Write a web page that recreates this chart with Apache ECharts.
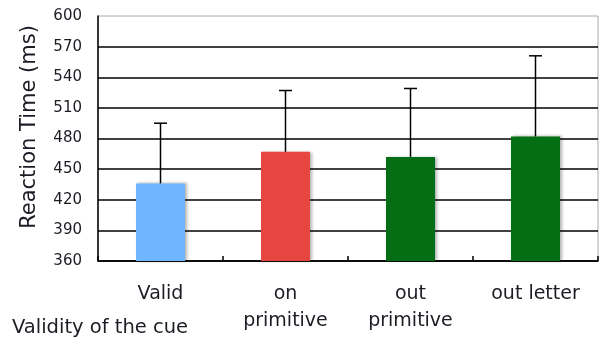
<!DOCTYPE html>
<html>
<head>
<meta charset="utf-8">
<script src="https://cdn.jsdelivr.net/npm/echarts@6/dist/echarts.min.js"></script>
<style>
  html, body { margin: 0; padding: 0; background: #fff; }
  #chart { width: 600px; height: 345px; }
</style>
</head>
<body>
<div id="chart"></div>
<script>
// Cue validity conditions and mean reaction times (ms)
const categories = ['Valid', 'on\nprimitive', 'out\nprimitive', 'out letter'];
const meanRT = [436, 467, 462, 482];
// upper end of each error bar (ms)
const upperRT = [495, 527, 529, 561];
const barColors = ['#70B5FF', '#E64540', '#046E14', '#046E14'];
const yTicks = { min: 360, max: 600, step: 30 };

const FONT = 'DejaVu Sans';
const TEXT = '#1c1c24';

const chart = echarts.init(document.getElementById('chart'), null, { renderer: 'canvas' });

chart.setOption({
  animation: false,
  grid: {
    left: 98, right: 2, top: 16, bottom: 84,
    show: true, borderColor: '#aaaaaa', borderWidth: 1, backgroundColor: 'transparent'
  },
  xAxis: {
    type: 'category',
    data: categories,
    axisLine: { lineStyle: { color: '#000', width: 1.5 } },
    axisTick: { show: true, inside: true, length: 5, lineStyle: { color: '#000', width: 1.5 } },
    axisLabel: {
      margin: 20, color: TEXT, fontFamily: FONT, fontSize: 19, lineHeight: 27
    }
  },
  yAxis: {
    type: 'value',
    min: yTicks.min, max: yTicks.max, interval: yTicks.step,
    axisLine: { show: true, lineStyle: { color: '#000', width: 1.5 } },
    axisTick: { show: false },
    axisLabel: { margin: 16, color: TEXT, fontFamily: FONT, fontSize: 15 },
    splitLine: { show: true, showMaxLine: false, lineStyle: { color: '#000', width: 1.5 } }
  },
  series: [
    {
      type: 'bar',
      barWidth: 49,
      data: meanRT.map((v, i) => ({
        value: v,
        itemStyle: {
          color: barColors[i],
          shadowColor: 'rgba(0,0,0,0.3)', shadowBlur: 3, shadowOffsetX: 2, shadowOffsetY: 0
        }
      })),
      z: 2
    },
    {
      type: 'custom',
      z: 3,
      data: meanRT.map((v, i) => [i, v, upperRT[i]]),
      renderItem: function (params, api) {
        const base = api.coord([api.value(0), api.value(1)]);
        const top = api.coord([api.value(0), api.value(2)]);
        const half = 6.5;
        const style = { stroke: '#000', lineWidth: 1.5 };
        return {
          type: 'group',
          children: [
            { type: 'line', shape: { x1: base[0], y1: base[1], x2: top[0], y2: top[1] }, style: style },
            { type: 'line', shape: { x1: top[0] - half, y1: top[1], x2: top[0] + half, y2: top[1] }, style: style }
          ]
        };
      }
    }
  ],
  graphic: [
    {
      type: 'text', x: 30, y: 127, rotation: Math.PI / 2,
      style: {
        text: 'Reaction Time (ms)', fill: TEXT, font: '21px "DejaVu Sans"',
        textAlign: 'center', textVerticalAlign: 'middle'
      }
    },
    {
      type: 'text', x: 12, y: 328,
      style: {
        text: 'Validity of the cue', fill: TEXT, font: '19.5px "DejaVu Sans"',
        textAlign: 'left', textVerticalAlign: 'middle'
      }
    }
  ]
});
</script>
</body>
</html>
